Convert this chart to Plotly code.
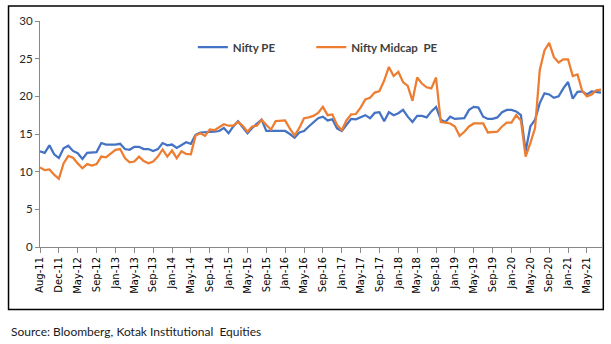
import pandas as pd
import plotly.graph_objects as go

# Monthly series Aug-11 .. Aug-21 (Feb-12 not reported)
months = [m for m in pd.period_range("2011-08", "2021-08", freq="M") if str(m) != "2012-02"]
categories = [m.strftime("%b-%y") for m in months]
tick_labels = categories[::4]

nifty_pe = [
    12.7, 12.5, 13.5, 12.3, 11.8, 13.1, 13.45, 12.75, 12.45, 11.7,
    12.5, 12.5, 12.6, 13.8, 13.6, 13.6, 13.6, 13.7, 13.0, 12.9,
    13.3, 13.3, 13.0, 13.0, 12.75, 13.0, 13.8, 13.5, 13.6, 13.15,
    13.5, 13.9, 13.7, 14.9, 15.2, 15.2, 15.2, 15.3, 15.4, 15.8,
    15.1, 16.0, 16.7, 15.9, 15.1, 15.8, 16.4, 16.9, 15.4, 15.4,
    15.4, 15.4, 15.4, 15.0, 14.5, 15.2, 15.4, 16.0, 16.6, 17.1,
    17.3, 16.8, 16.95, 15.75, 15.4, 16.2, 17.0, 16.95, 17.2, 17.5,
    17.1, 17.8, 17.9, 16.7, 17.9, 17.5, 17.75, 18.2, 17.3, 16.6,
    17.4, 17.4, 17.2, 18.0, 18.6, 16.9, 16.6, 17.3, 17.0, 17.1,
    17.1, 18.2, 18.6, 18.5, 17.3, 17.0, 17.0, 17.2, 17.9, 18.2,
    18.2, 18.0, 17.5, 12.7, 16.0, 16.9, 19.1, 20.4, 20.25, 19.8,
    20.0, 21.05, 21.9, 19.7, 20.6, 20.65, 20.25, 20.65, 20.6, 20.5,
]

midcap_pe = [
    10.55, 10.2, 10.3, 9.6, 9.05, 11.1, 12.1, 11.85, 11.1, 10.45,
    11.0, 10.8, 11.0, 12.0, 11.9, 12.45, 12.9, 13.0, 11.8, 11.25,
    11.35, 12.0, 11.4, 11.1, 11.35, 12.0, 12.95, 12.0, 12.8, 11.8,
    12.7, 12.35, 12.3, 14.8, 15.1, 14.75, 15.6, 15.5, 15.9, 16.3,
    16.1, 16.1, 16.6, 16.1, 15.3, 16.0, 16.1, 16.9, 16.2, 15.6,
    16.7, 16.7, 16.8, 15.7, 14.8, 15.8, 17.1, 17.2, 17.4, 17.8,
    18.6, 17.5, 17.6, 16.2, 15.5, 16.8, 17.6, 17.65, 18.5, 19.6,
    19.8, 20.5, 20.7, 22.1, 23.9, 22.7, 23.25, 21.9, 21.4, 19.4,
    22.5, 21.7, 21.2, 21.05, 22.5, 16.6, 16.5, 16.4, 16.0, 14.75,
    15.3, 16.0, 16.4, 16.4, 16.4, 15.2, 15.3, 15.3, 16.0, 16.5,
    16.5, 17.5, 16.8, 12.0, 13.8, 15.8, 23.5, 26.1, 27.1, 25.2,
    24.5, 24.9, 24.9, 22.7, 22.9, 20.7, 20.0, 20.25, 20.8, 20.9,
]

fig = go.Figure()
fig.add_trace(go.Scatter(
    x=categories, y=nifty_pe, mode="lines", name="Nifty PE",
    line=dict(color="#4472C4", width=2.25), legend="legend",
))
fig.add_trace(go.Scatter(
    x=categories, y=midcap_pe, mode="lines", name="Nifty Midcap  PE",
    line=dict(color="#ED7D31", width=2.25), legend="legend2",
))

axis_grey = "#898989"

fig.update_xaxes(
    type="category",
    categoryorder="array", categoryarray=categories,
    range=[0, len(categories) - 0.8],
    tickmode="array", tickvals=tick_labels, ticktext=tick_labels,
    tickangle=-90,
    ticks="outside", ticklen=5, tickcolor=axis_grey, tickwidth=1,
    showline=True, linecolor=axis_grey, linewidth=1,
    showgrid=False, zeroline=False,
    tickfont=dict(family="DejaVu Sans", size=10, color="#000000"),
)
fig.update_yaxes(
    range=[0, 30], dtick=5,
    ticks="outside", ticklen=4, tickcolor=axis_grey, tickwidth=1,
    showline=True, linecolor=axis_grey, linewidth=1,
    showgrid=False, zeroline=False,
    tickfont=dict(family="Lato", size=11.5, color="#262626"),
)

legend_font = dict(family="Lato", size=11.5, color="#404040", weight="bold")

fig.update_layout(
    width=611, height=344,
    margin=dict(l=40, r=9, t=21, b=97),
    paper_bgcolor="white", plot_bgcolor="white",
    showlegend=True,
    legend=dict(
        orientation="h", x=0.272, xanchor="left", y=0.884, yanchor="middle",
        font=legend_font, bgcolor="rgba(0,0,0,0)",
    ),
    legend2=dict(
        orientation="h", x=0.4827, xanchor="left", y=0.884, yanchor="middle",
        font=legend_font, bgcolor="rgba(0,0,0,0)",
    ),
    shapes=[dict(
        type="rect", xref="paper", yref="paper",
        x0=-0.056, x1=1.0023, y0=-0.277, y1=1.0666,
        line=dict(color="#000000", width=1.5), layer="above",
    )],
    annotations=[dict(
        text="Source: Bloomberg, Kotak Institutional  Equities",
        xref="paper", yref="paper", x=-0.056, y=-0.374,
        xanchor="left", yanchor="middle", showarrow=False,
        font=dict(family="Lato", size=12, color="#1a1a1a"),
    )],
)

fig.write_html("out.html")
